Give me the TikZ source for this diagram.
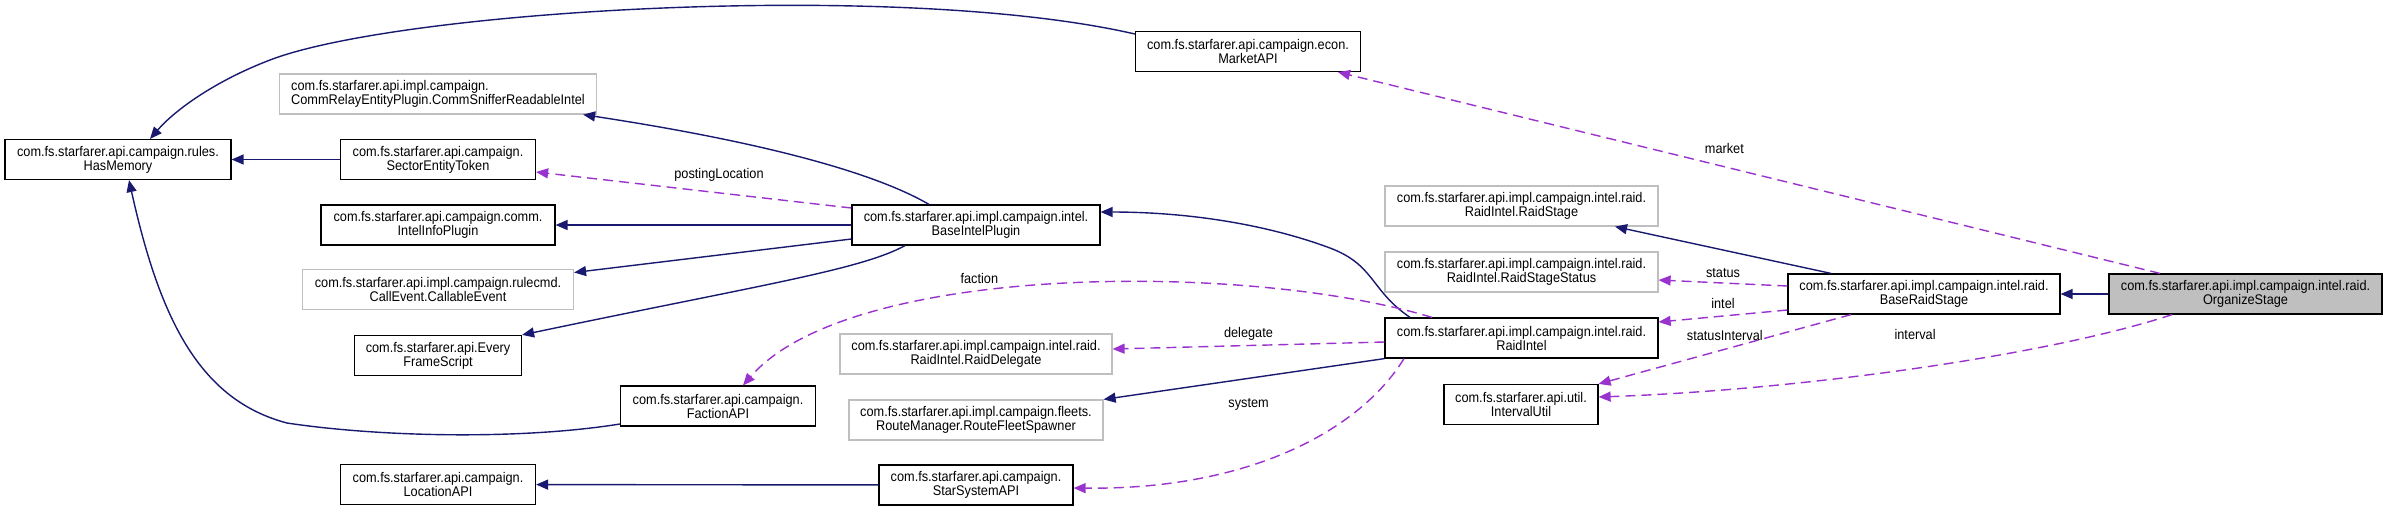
\documentclass[tikz,border=0pt]{standalone}
\usepackage{fontspec}
\setmainfont{Liberation Sans}[FakeStretch=0.91]
\usepackage{xcolor}
\usetikzlibrary{arrows.meta}
\definecolor{navy}{HTML}{191970}
\definecolor{orchid}{HTML}{9A32CD}
\definecolor{boxgray}{HTML}{BFBFBF}
\definecolor{extgray}{HTML}{BFBFBF}

\begin{document}
\begin{tikzpicture}[
  x=0.5pt, y=-0.5pt,
  cls/.style={draw=black, line width=0.6pt, fill=white, align=center,
              minimum height=20pt, inner xsep=2pt, inner ysep=1pt,
              font=\fontsize{7}{7}\selectfont},
  ext/.style={cls, draw=extgray},
  inh/.style={draw=navy, line width=0.7pt, -{Triangle[length=6pt,width=5pt]}},
  use/.style={draw=orchid, line width=0.7pt, dash pattern=on 5pt off 3pt,
              -{Triangle[length=6pt,width=5pt]}},
  lbl/.style={font=\fontsize{7}{7}\selectfont, inner sep=1pt}
]
\path[fill=white] (0,0) rectangle (2387,511);
\useasboundingbox (0,0) rectangle (2387,511);

\node[cls, minimum width=112.5pt] (marketAPI) at (1248,51.5)
    {com.fs.starfarer.api.campaign.econ.\\MarketAPI};
\node[cls, minimum width=113pt] (hasMemory) at (118,159.5)
    {com.fs.starfarer.api.campaign.rules.\\HasMemory};
\node[ext, minimum width=158.5pt, align=left] (commSniffer) at (438,94)
    {com.fs.starfarer.api.impl.campaign.\\CommRelayEntityPlugin.CommSnifferReadableIntel};
\node[cls, minimum width=97.5pt] (sectorToken) at (438,159.5)
    {com.fs.starfarer.api.campaign.\\SectorEntityToken};
\node[cls, minimum width=117pt] (intelInfo) at (438,225)
    {com.fs.starfarer.api.campaign.comm.\\IntelInfoPlugin};
\node[ext, minimum width=135.5pt] (callableEvent) at (438,289.5)
    {com.fs.starfarer.api.impl.campaign.rulecmd.\\CallEvent.CallableEvent};
\node[cls, minimum width=83.5pt] (everyFrame) at (438,355.5)
    {com.fs.starfarer.api.Every\\FrameScript};
\node[cls, minimum width=97.5pt] (factionAPI) at (718,406)
    {com.fs.starfarer.api.campaign.\\FactionAPI};
\node[cls, minimum width=97.5pt] (locationAPI) at (438,484.5)
    {com.fs.starfarer.api.campaign.\\LocationAPI};
\node[cls, minimum width=124pt] (baseIntel) at (976,225)
    {com.fs.starfarer.api.impl.campaign.intel.\\BaseIntelPlugin};
\node[ext, minimum width=136pt] (raidDelegate) at (976,354)
    {com.fs.starfarer.api.impl.campaign.intel.raid.\\RaidIntel.RaidDelegate};
\node[ext, minimum width=127pt] (routeSpawner) at (976,420)
    {com.fs.starfarer.api.impl.campaign.fleets.\\RouteManager.RouteFleetSpawner};
\node[cls, minimum width=97pt] (starSystem) at (976,485)
    {com.fs.starfarer.api.campaign.\\StarSystemAPI};
\node[ext, minimum width=136.5pt] (raidStage) at (1521.5,206)
    {com.fs.starfarer.api.impl.campaign.intel.raid.\\RaidIntel.RaidStage};
\node[ext, minimum width=136.5pt] (raidStageStatus) at (1521.5,272)
    {com.fs.starfarer.api.impl.campaign.intel.raid.\\RaidIntel.RaidStageStatus};
\node[cls, minimum width=136.5pt] (raidIntel) at (1521.5,338)
    {com.fs.starfarer.api.impl.campaign.intel.raid.\\RaidIntel};
\node[cls, minimum width=77pt] (intervalUtil) at (1521,404.5)
    {com.fs.starfarer.api.util.\\IntervalUtil};
\node[cls, minimum width=136pt] (baseRaidStage) at (1924,294)
    {com.fs.starfarer.api.impl.campaign.intel.raid.\\BaseRaidStage};
\node[cls, fill=boxgray, minimum width=136.5pt] (organizeStage) at (2245.5,294)
    {com.fs.starfarer.api.impl.campaign.intel.raid.\\OrganizeStage};

\draw[inh] ([yshift=8.75pt]marketAPI.west) .. controls (900,-20) and (400,10) .. (270,60)
    .. controls (215,81) and (175,110) .. ([xshift=16pt]hasMemory.north);
\draw[inh] (sectorToken) -- (hasMemory);
\draw[inh] ([xshift=-23.5pt]baseIntel.north) .. controls (870,170) and (750,140)
    .. ([xshift=-7pt]commSniffer.south east);
\draw[inh] (baseIntel) -- (intelInfo);
\draw[inh] ([yshift=-7pt]baseIntel.west) -- ([yshift=8.5pt]callableEvent.east);
\draw[inh] ([xshift=-35.5pt]baseIntel.south) .. controls (860,270) and (760,285)
    .. (everyFrame.north east);
\draw[inh] ([yshift=-9pt]factionAPI.west) .. controls (520,440) and (380,437) .. (287,423)
    .. controls (200,400) and (160,320) .. ([xshift=5.5pt]hasMemory.south);
\draw[use] ([yshift=8.5pt]baseIntel.west) -- node[lbl, pos=0.42, above=4.5pt] {postingLocation}
    ([yshift=-6.25pt]sectorToken.east);
\draw[inh] ([xshift=-55.75pt]raidIntel.north) .. controls (1370,290) and (1375,265) .. (1330,248)
    .. controls (1260,222) and (1180,212) .. ([yshift=6.5pt]baseIntel.east);
\draw[use] ([xshift=-44.75pt]raidIntel.north) .. controls (1250,262) and (850,262)
    .. node[lbl, pos=0.6, above=3pt] {faction} ([xshift=12.5pt]factionAPI.north);
\draw[use] ([yshift=-2pt]raidIntel.west) -- node[lbl, above=1.25pt] {delegate}
    ([yshift=2.5pt]raidDelegate.east);
\draw[inh] (raidIntel.south west) -- (routeSpawner.north east);
\draw[use] ([xshift=-58.75pt]raidIntel.south) .. controls (1360,430) and (1250,490)
    .. node[lbl, pos=0.25, xshift=-55pt, yshift=2.5pt] {system} ([yshift=-1.5pt]starSystem.east);
\draw[inh] (starSystem) -- (locationAPI);
\draw[inh] ([xshift=-46.5pt]baseRaidStage.north) -- ([xshift=46.75pt]raidStage.south);
\draw[use] ([yshift=4pt]baseRaidStage.west) -- node[lbl, above=1.5pt] {status}
    ([yshift=-4pt]raidStageStatus.east);
\draw[use] ([yshift=-8pt]baseRaidStage.west) -- node[lbl, above=2.5pt] {intel}
    ([yshift=8pt]raidIntel.east);
\draw[use] ([xshift=-36.5pt]baseRaidStage.south) -- node[lbl, above=3pt] {statusInterval}
    (intervalUtil.north east);
\draw[inh] (organizeStage) -- (baseRaidStage);
\draw[use] ([xshift=-42.75pt]organizeStage.north) -- node[lbl, pos=0.53, above=5pt] {market}
    ([xshift=45pt]marketAPI.south);
\draw[use] ([xshift=-36.75pt]organizeStage.south) .. controls (2050,355) and (1800,390)
    .. node[lbl, pos=0.5, above=13pt] {interval} ([yshift=3.75pt]intervalUtil.east);
\end{tikzpicture}
\end{document}
